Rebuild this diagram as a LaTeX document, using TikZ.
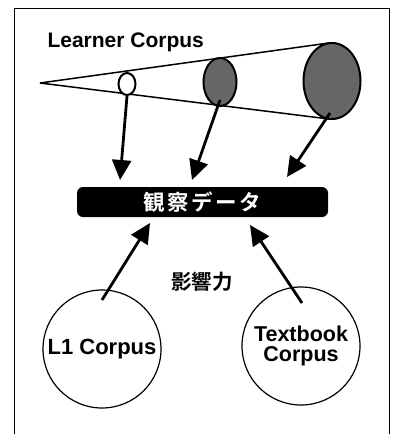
\documentclass[tikz,border=0pt]{standalone}
\usepackage{fontspec}
\setmainfont{Liberation Sans}
\newfontfamily\jpfont{Noto Sans CJK JP}[BoldFont={* Bold}]
\newfontfamily\jpspaced{Noto Sans CJK JP}[LetterSpace=12,BoldFont={* Bold}]
\usetikzlibrary{shapes.geometric,arrows.meta}
\begin{document}
\begin{tikzpicture}[x=1pt,y=-1pt,
  frameline/.style={line width=1pt},
  coneline/.style={line width=1.5pt},
  slice/.style={ellipse,draw,line width=2pt,inner sep=0pt},
  dark/.style={fill=black!60},
  fatarrow/.style={line width=2.8pt,-{Triangle[length=20pt,width=19pt]}},
  corpus/.style={circle,draw,line width=1.2pt,minimum size=118pt,inner sep=0pt,align=center,font=\fontsize{22}{20}\selectfont\bfseries},
  label/.style={font=\fontsize{21}{22}\selectfont\bfseries}]
\useasboundingbox (0,0) rectangle (399,434);
% frame
\coordinate (fbl) at (14,434);
\coordinate (ftl) at (14,8);
\coordinate (ftr) at (389,8);
\coordinate (fbr) at (389,434);
\draw[frameline] (fbl) -- (ftl) -- (ftr) -- (fbr);
% title
\node[label,anchor=base west] (title) at (44,47) {Learner Corpus};
% cone
\coordinate (apex) at (40,83);
\coordinate (bigtop) at (329,43);
\coordinate (bigbot) at (329,119);
\draw[coneline] (apex) -- (bigtop);
\draw[coneline] (apex) -- (bigbot);
\node[slice,dark,minimum width=57pt,minimum height=76pt] (big) at (332,81) {};
\node[slice,dark,minimum width=33pt,minimum height=48pt] (med) at (220,82) {};
\node[slice,fill=white,minimum width=17pt,minimum height=22pt] (sml) at (127,84) {};
% observed data box
\node[fill=black,rounded corners=6pt,minimum width=251pt,minimum height=30pt,inner sep=0pt,text=white,font=\jpspaced\fontsize{21.5}{22}\selectfont\bfseries] (obs) at (202.5,202) {観察データ};
% arrows from slices
\coordinate (t1) at (120,180);
\coordinate (t2) at (192,180);
\coordinate (t3) at (287,177);
\coordinate (s2) at (220,100);
\coordinate (s3) at (330,113);
\draw[fatarrow] (sml.south) -- (t1);
\draw[fatarrow] (s2) -- (t2);
\draw[fatarrow] (s3) -- (t3);
% influence label
\node[font=\jpfont\fontsize{20.5}{22}\selectfont\bfseries] (infl) at (202,282) {影響力};
% corpora
\node[corpus] (l1) at (102,349) {L1 Corpus};
\node[corpus] (tb) at (301,346) {\fontsize{21.5}{20}\selectfont Textbook\\\fontsize{21.5}{20}\selectfont Corpus};
\coordinate (u1) at (102,300);
\coordinate (u2) at (302,303);
\coordinate (v1) at (150,223);
\coordinate (v2) at (250,225);
\draw[fatarrow] (u1) -- (v1);
\draw[fatarrow] (u2) -- (v2);
\end{tikzpicture}
\end{document}
